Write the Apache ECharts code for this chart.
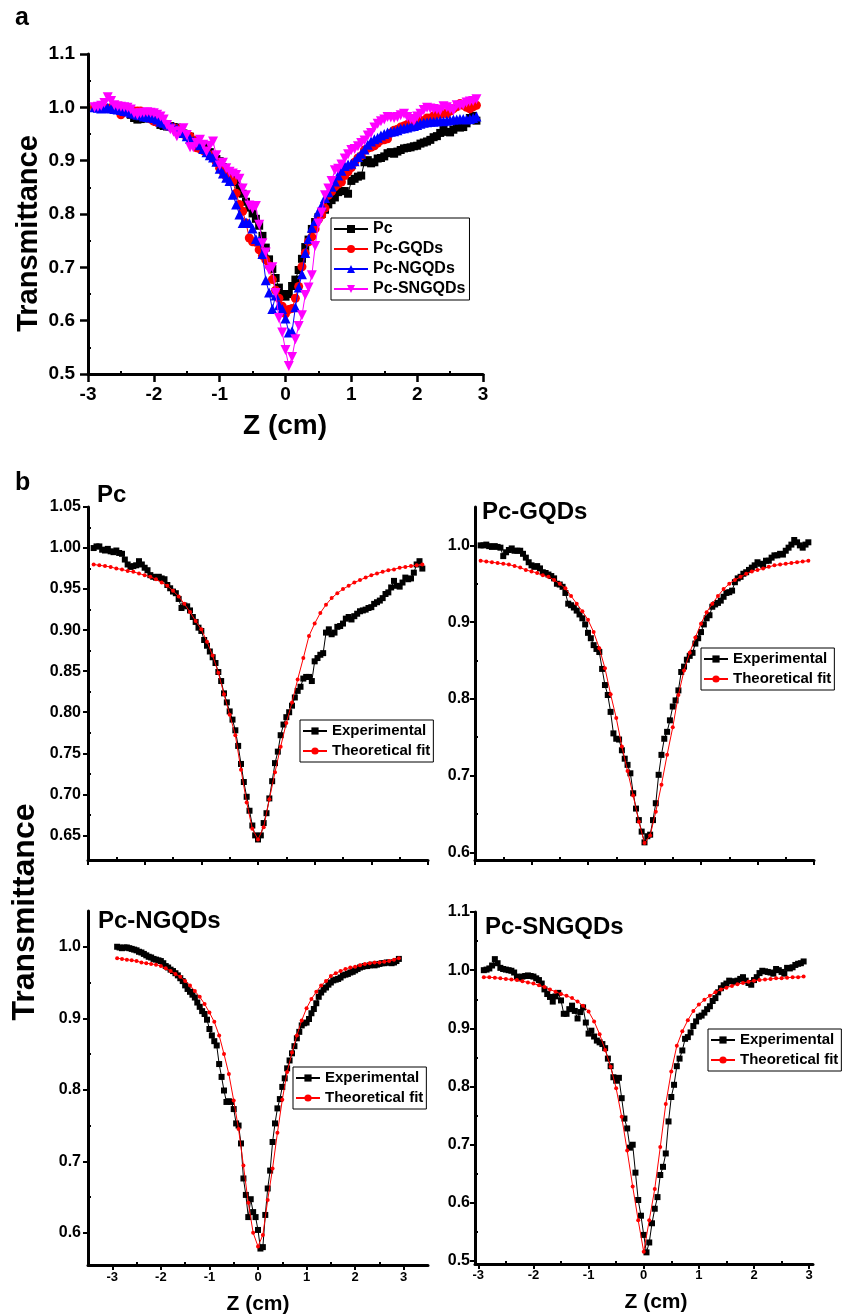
<!DOCTYPE html>
<html><head><meta charset="utf-8">
<script src="https://cdn.jsdelivr.net/npm/echarts@6/dist/echarts.min.js"></script>
<style>html,body{margin:0;padding:0;background:#fff}#c{width:849px;height:1315px}</style>
</head><body><div id="c"></div>
<script>
// ---------- data ----------
const zExp = [-2.9,-2.85,-2.8,-2.75,-2.7,-2.65,-2.6,-2.55,-2.5,-2.45,
  -2.4,-2.35,-2.3,-2.25,-2.2,-2.15,-2.1,-2.05,-2,-1.95,
  -1.9,-1.85,-1.8,-1.75,-1.7,-1.65,-1.6,-1.55,-1.5,-1.45,
  -1.4,-1.35,-1.3,-1.25,-1.2,-1.15,-1.1,-1.05,-1,-0.95,
  -0.9,-0.85,-0.8,-0.75,-0.7,-0.65,-0.6,-0.55,-0.5,-0.45,
  -0.4,-0.35,-0.3,-0.25,-0.2,-0.15,-0.1,-0.05,0,0.05,
  0.1,0.15,0.2,0.25,0.3,0.35,0.4,0.45,0.5,0.55,
  0.6,0.65,0.7,0.75,0.8,0.85,0.9,0.95,1,1.05,
  1.1,1.15,1.2,1.25,1.3,1.35,1.4,1.45,1.5,1.55,
  1.6,1.65,1.7,1.75,1.8,1.85,1.9,1.95,2,2.05,
  2.1,2.15,2.2,2.25,2.3,2.35,2.4,2.45,2.5,2.55,
  2.6,2.65,2.7,2.75,2.8,2.85,2.9];
const zFit = [-2.9,-2.8,-2.7,-2.6,-2.5,-2.4,-2.3,-2.2,-2.1,-2,
  -1.9,-1.8,-1.7,-1.6,-1.5,-1.4,-1.3,-1.2,-1.1,-1,
  -0.9,-0.8,-0.7,-0.6,-0.5,-0.4,-0.3,-0.2,-0.1,0,
  0.1,0.2,0.3,0.4,0.5,0.6,0.7,0.8,0.9,1,
  1.1,1.2,1.3,1.4,1.5,1.6,1.7,1.8,1.9,2,
  2.1,2.2,2.3,2.4,2.5,2.6,2.7,2.8,2.9];

const pcExp = [1.000,1.002,1.002,0.998,0.997,0.999,0.996,0.995,0.997,0.994,
  0.993,0.986,0.980,0.977,0.978,0.979,0.984,0.980,0.976,0.973,
  0.967,0.965,0.964,0.965,0.963,0.962,0.955,0.951,0.947,0.945,
  0.938,0.927,0.930,0.929,0.924,0.916,0.910,0.903,0.899,0.888,
  0.881,0.874,0.867,0.860,0.849,0.838,0.823,0.812,0.801,0.791,
  0.778,0.759,0.737,0.715,0.697,0.680,0.662,0.650,0.645,0.650,
  0.665,0.677,0.695,0.716,0.738,0.752,0.772,0.785,0.794,0.800,
  0.808,0.818,0.826,0.831,0.841,0.843,0.843,0.838,0.862,0.866,
  0.870,0.872,0.897,0.901,0.895,0.897,0.904,0.905,0.908,0.914,
  0.916,0.913,0.917,0.920,0.923,0.924,0.925,0.927,0.928,0.932,
  0.934,0.936,0.939,0.944,0.946,0.952,0.960,0.954,0.953,0.958,
  0.964,0.962,0.963,0.970,0.980,0.984,0.975];
const gqdExp = [1.000,1.000,1.001,0.999,0.998,0.999,0.998,0.997,0.986,0.991,
  0.994,0.996,0.993,0.993,0.993,0.989,0.984,0.978,0.974,0.972,
  0.973,0.970,0.965,0.964,0.962,0.960,0.957,0.950,0.949,0.946,
  0.938,0.924,0.922,0.919,0.915,0.910,0.905,0.897,0.886,0.879,
  0.870,0.865,0.861,0.839,0.818,0.805,0.783,0.755,0.748,0.747,
  0.733,0.722,0.714,0.703,0.677,0.657,0.642,0.627,0.613,0.621,
  0.623,0.642,0.664,0.701,0.727,0.748,0.757,0.772,0.790,0.798,
  0.811,0.835,0.842,0.851,0.856,0.860,0.872,0.879,0.887,0.897,
  0.905,0.909,0.920,0.923,0.925,0.928,0.933,0.938,0.939,0.941,
  0.952,0.957,0.959,0.963,0.965,0.968,0.971,0.974,0.978,0.976,
  0.974,0.980,0.980,0.984,0.987,0.987,0.989,0.988,0.993,0.997,
  1.001,1.007,1.004,1.000,0.997,1.001,1.004];
const ngqdExp = [1.000,0.999,0.998,0.999,0.999,0.998,0.997,0.996,0.995,0.993,
  0.992,0.990,0.988,0.986,0.985,0.983,0.982,0.981,0.980,0.977,
  0.973,0.971,0.968,0.966,0.963,0.960,0.956,0.952,0.946,0.941,
  0.937,0.933,0.929,0.922,0.916,0.910,0.906,0.898,0.885,0.876,
  0.868,0.862,0.836,0.818,0.799,0.783,0.784,0.783,0.773,0.753,
  0.750,0.725,0.676,0.653,0.622,0.647,0.629,0.622,0.604,0.578,
  0.580,0.625,0.662,0.687,0.727,0.753,0.774,0.787,0.804,0.816,
  0.830,0.841,0.851,0.861,0.872,0.881,0.890,0.893,0.894,0.899,
  0.907,0.913,0.921,0.930,0.936,0.940,0.943,0.947,0.950,0.953,
  0.954,0.955,0.957,0.960,0.961,0.962,0.964,0.965,0.967,0.969,
  0.971,0.972,0.973,0.973,0.974,0.975,0.974,0.975,0.976,0.977,
  0.977,0.978,0.978,0.977,0.978,0.980,0.983];
const sngqdExp = [1.000,1.001,1.003,1.008,1.019,1.012,1.004,1.002,1.001,1.000,
  0.999,0.996,0.989,0.986,0.989,0.990,0.991,0.990,0.989,0.986,
  0.983,0.977,0.967,0.959,0.954,0.946,0.955,0.961,0.948,0.925,
  0.925,0.933,0.939,0.930,0.917,0.928,0.936,0.910,0.891,0.896,
  0.886,0.879,0.876,0.873,0.866,0.848,0.835,0.816,0.810,0.815,
  0.780,0.745,0.728,0.695,0.700,0.652,0.605,0.578,0.545,0.515,
  0.532,0.565,0.590,0.610,0.648,0.662,0.685,0.740,0.782,0.803,
  0.835,0.848,0.862,0.882,0.885,0.893,0.904,0.912,0.920,0.922,
  0.927,0.933,0.938,0.947,0.952,0.962,0.969,0.974,0.977,0.982,
  0.981,0.980,0.982,0.985,0.988,0.982,0.978,0.975,0.983,0.988,
  0.995,0.999,0.998,0.997,0.996,0.994,1.002,1.000,0.997,0.994,
  1.004,1.003,1.005,1.009,1.011,1.012,1.015];

const pcFit = [0.980,0.979,0.978,0.977,0.975,0.974,0.972,0.971,0.969,0.967,
  0.965,0.962,0.958,0.954,0.948,0.941,0.932,0.922,0.911,0.901,
  0.886,0.869,0.848,0.822,0.797,0.772,0.730,0.690,0.658,0.645,
  0.660,0.694,0.727,0.758,0.787,0.812,0.840,0.866,0.893,0.908,
  0.921,0.931,0.939,0.945,0.950,0.954,0.958,0.961,0.964,0.967,
  0.969,0.971,0.973,0.974,0.976,0.977,0.978,0.979,0.980];
const gqdFit = [0.980,0.979,0.978,0.977,0.976,0.975,0.973,0.971,0.968,0.966,
  0.964,0.961,0.959,0.955,0.950,0.944,0.934,0.924,0.914,0.903,
  0.887,0.866,0.840,0.806,0.775,0.738,0.706,0.674,0.640,0.612,
  0.622,0.653,0.688,0.727,0.763,0.805,0.837,0.860,0.880,0.898,
  0.913,0.924,0.934,0.943,0.950,0.955,0.959,0.963,0.966,0.968,
  0.970,0.972,0.974,0.975,0.976,0.977,0.978,0.979,0.980];
const ngqdFit = [0.984,0.983,0.982,0.981,0.980,0.978,0.977,0.976,0.975,0.973,
  0.970,0.966,0.962,0.958,0.952,0.946,0.938,0.930,0.920,0.908,
  0.895,0.876,0.850,0.822,0.785,0.745,0.694,0.642,0.600,0.581,
  0.597,0.646,0.690,0.740,0.786,0.825,0.852,0.876,0.897,0.914,
  0.927,0.937,0.946,0.952,0.959,0.963,0.966,0.969,0.971,0.972,
  0.974,0.976,0.977,0.978,0.978,0.979,0.980,0.982,0.984];
const sngqdFit = [0.988,0.988,0.987,0.986,0.985,0.984,0.983,0.981,0.979,0.977,
  0.974,0.971,0.967,0.963,0.959,0.956,0.952,0.946,0.939,0.929,
  0.912,0.890,0.863,0.834,0.797,0.748,0.690,0.628,0.570,0.516,
  0.570,0.624,0.696,0.770,0.826,0.870,0.895,0.914,0.930,0.941,
  0.949,0.956,0.962,0.967,0.970,0.973,0.976,0.978,0.980,0.982,
  0.983,0.984,0.985,0.986,0.986,0.987,0.988,0.988,0.989];

const sampleNames = ['Pc','Pc-GQDs','Pc-NGQDs','Pc-SNGQDs'];
const fitNames = ['Experimental','Theoretical fit'];

const xTicks = [-3,-2,-1,0,1,2,3];
const xMinor = [-2.5,-1.5,-0.5,0.5,1.5,2.5];
const yTicksA = [0.5,0.6,0.7,0.8,0.9,1.0,1.1];
const yMinorA = [0.55,0.65,0.75,0.85,0.95,1.05];
const yTicksB1 = [0.65,0.70,0.75,0.80,0.85,0.90,0.95,1.00,1.05];
const yMinorB1 = [0.675,0.725,0.775,0.825,0.875,0.925,0.975,1.025];
const yTicksB2 = [0.6,0.7,0.8,0.9,1.0];
const yMinorB2 = [0.65,0.75,0.85,0.95];
const yTicksB4 = [0.5,0.6,0.7,0.8,0.9,1.0,1.1];
const yMinorB4 = [0.55,0.65,0.75,0.85,0.95,1.05];

// ---------- layout ----------
const FONT = 'Liberation Sans, Arial, Helvetica, sans-serif';
const expArr = [pcExp, gqdExp, ngqdExp, sngqdExp];
const fitArr = [pcFit, gqdFit, ngqdFit, sngqdFit];
const pair = (xs, ys) => xs.map((x, i) => [x, ys[i]]);

const panels = [
  {grid:{left:88, top:54, width:395, height:320}, x:[-3,3], y:[0.5,1.1], yt:yTicksA, ym:yMinorA, dec:1,
   xLab:true, xFs:19, xMar:11, yFs:19, yMar:13, tickLen:8, tickW:2.5},
  {grid:{left:88, top:507, width:340, height:353}, x:[-3,3], y:[0.62,1.05], yt:yTicksB1, ym:yMinorB1, dec:2,
   xLab:false, xFs:13, xMar:6, yFs:16, yMar:7, tickLen:5, tickW:2},
  {grid:{left:475, top:507, width:339, height:353}, x:[-3,3], y:[0.59,1.05], yt:yTicksB2, ym:yMinorB2, dec:1,
   xLab:false, xFs:13, xMar:6, yFs:16, yMar:5, tickLen:5, tickW:2},
  {grid:{left:88, top:911, width:340, height:354}, x:[-3.5,3.5], y:[0.555,1.05], yt:yTicksB2, ym:yMinorB2, dec:1,
   xLab:true, xFs:13, xMar:6, yFs:16, yMar:7, tickLen:5, tickW:2},
  {grid:{left:475, top:912, width:338, height:352}, x:[-3.06,3.07], y:[0.495,1.1], yt:yTicksB4, ym:yMinorB4, dec:1,
   xLab:true, xFs:13, xMar:5, yFs:16, yMar:5, tickLen:5, tickW:2}
];

const xAxes = [], yAxes = [];
panels.forEach((p, i) => {
  xAxes.push({type:'value', gridIndex:i, min:p.x[0], max:p.x[1], position:'bottom',
    axisLine:{onZero:false, lineStyle:{color:'#000', width:3}},
    axisTick:{customValues:xTicks, length:p.tickLen, lineStyle:{color:'#000', width:p.tickW}},
    axisLabel:{show:p.xLab, customValues:xTicks, margin:p.xMar, fontSize:p.xFs, fontWeight:'bold', fontFamily:FONT, color:'#000'},
    splitLine:{show:false}});
  yAxes.push({type:'value', gridIndex:i, min:p.y[0], max:p.y[1], position:'left',
    axisLine:{onZero:false, lineStyle:{color:'#000', width:3}},
    axisTick:{customValues:p.yt, length:p.tickLen, lineStyle:{color:'#000', width:p.tickW}},
    axisLabel:{customValues:p.yt, margin:p.yMar, fontSize:p.yFs, fontWeight:'bold', fontFamily:FONT, color:'#000',
      formatter:(v) => Number(v).toFixed(p.dec)},
    splitLine:{show:false}});
});
panels.forEach((p, i) => {
  xAxes.push({type:'value', gridIndex:i, min:p.x[0], max:p.x[1], position:'bottom',
    axisLine:{show:false, onZero:false}, axisLabel:{show:false}, splitLine:{show:false},
    axisTick:{inside:true, customValues:xMinor, length:3, lineStyle:{color:'#000', width:2}}});
  yAxes.push({type:'value', gridIndex:i, min:p.y[0], max:p.y[1], position:'left',
    axisLine:{show:false, onZero:false}, axisLabel:{show:false}, splitLine:{show:false},
    axisTick:{inside:true, customValues:p.ym, length:3, lineStyle:{color:'#000', width:2}}});
});

const colorsA = ['#000000','#ff0000','#0000ff','#ff00ff'];
const symA = ['rect','circle','triangle','triangle'];
const symSizeA = [8,9,10,10];
const series = [];
sampleNames.forEach((n, k) => {
  series.push({type:'line', name:n, xAxisIndex:0, yAxisIndex:0, data:pair(zExp, expArr[k]),
    symbol:symA[k], symbolRotate:k === 3 ? 180 : 0, symbolSize:symSizeA[k],
    lineStyle:{color:colorsA[k], width:1}, itemStyle:{color:colorsA[k], borderWidth:0},
    emphasis:{disabled:true}, z:2 + k});
});
for (let g = 1; g <= 4; g++) {
  series.push({type:'line', name:fitNames[0], xAxisIndex:g, yAxisIndex:g, data:pair(zExp, expArr[g-1]),
    symbol:'rect', symbolSize:6, lineStyle:{color:'#000', width:1}, itemStyle:{color:'#000', borderWidth:0},
    emphasis:{disabled:true}, z:2});
  series.push({type:'line', name:fitNames[1], xAxisIndex:g, yAxisIndex:g, data:pair(zFit, fitArr[g-1]),
    symbol:'circle', symbolSize:4, lineStyle:{color:'#ff0000', width:1}, itemStyle:{color:'#ff0000', borderWidth:0},
    emphasis:{disabled:true}, z:3});
}

const legBase = {orient:'vertical', itemGap:2, borderColor:'#000', borderWidth:1, selectedMode:false,
  inactiveColor:'#000'};
const legendPos = [[300,720],[701,648],[293,1067],[708,1029]];
const legends = [Object.assign({}, legBase, {data:sampleNames, left:331, top:218, itemWidth:34, itemHeight:10,
  padding:[2,4,2,2], textStyle:{fontSize:16, fontWeight:'bold', fontFamily:FONT, color:'#000', lineHeight:18}})];
legendPos.forEach(pos => legends.push(Object.assign({}, legBase, {data:fitNames, left:pos[0], top:pos[1],
  itemWidth:24, itemHeight:9, padding:[2,3,2,2],
  textStyle:{fontSize:15, fontWeight:'bold', fontFamily:FONT, color:'#000', lineHeight:18}})));

function txt(t, x, y, size, align, rot) {
  return {type:'text', x:x, y:y, rotation:rot || 0, silent:true,
    style:{text:t, fontSize:size, fontWeight:'bold', fontFamily:FONT, fill:'#000',
      textAlign:align || 'left', textVerticalAlign:'middle'}};
}
const graphics = [
  txt('a', 15, 18, 25),
  txt('b', 15, 483, 25),
  txt(sampleNames[0], 97, 495, 24),
  txt(sampleNames[1], 482, 512, 24),
  txt(sampleNames[2], 98, 921, 24),
  txt(sampleNames[3], 485, 927, 24),
  txt('Transmittance', 29, 233.5, 29, 'center', Math.PI / 2),
  txt('Transmittance', 25, 912, 32, 'center', Math.PI / 2),
  txt('Z (cm)', 285, 426, 28, 'center'),
  txt('Z (cm)', 258, 1304, 21, 'center'),
  txt('Z (cm)', 656, 1302, 21, 'center')
];

const chart = echarts.init(document.getElementById('c'), null, {renderer:'canvas'});
chart.setOption({
  animation:false,
  backgroundColor:'#fff',
  grid: panels.map(p => p.grid),
  xAxis: xAxes,
  yAxis: yAxes,
  legend: legends,
  series: series,
  graphic: graphics
});
</script></body></html>
